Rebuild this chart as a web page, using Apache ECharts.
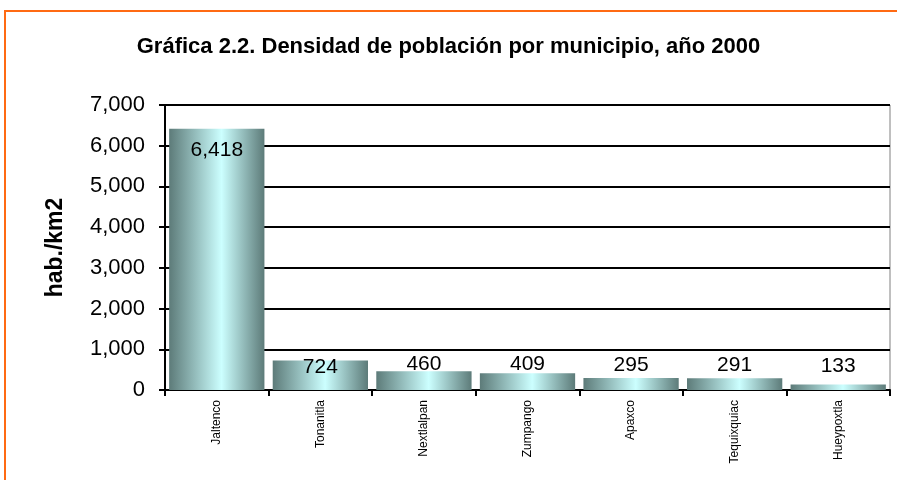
<!DOCTYPE html>
<html>
<head>
<meta charset="UTF-8">
<title>Densidad de población</title>
<script type="text/javascript" src="https://cdn.jsdelivr.net/npm/echarts@6/dist/echarts.min.js"></script>
</head>
<body style="margin:0">
    <div id="main" style="width: 897px;height:480px;"></div>
    <script type="text/javascript">
        var municipios = ['Jaltenco', 'Tonanitla', 'Nextlalpan', 'Zumpango', 'Apaxco', 'Tequixquiac', 'Hueypoxtla'];
        var densidad = [6418, 724, 460, 409, 295, 291, 133];
        var ejeY = [0, 1000, 2000, 3000, 4000, 5000, 6000, 7000];

        // label placement per bar, as excel put them
        var etiquetas = [
            { position: 'insideTop', distance: 11 },
            { position: 'insideTop', distance: -4 },
            { position: 'top', distance: -3 },
            { position: 'top', distance: -1 },
            { position: 'top', distance: 2 },
            { position: 'top', distance: 2 },
            { position: 'top', distance: 8 }
        ];

        var relleno = new echarts.graphic.LinearGradient(0, 0, 1, 0, [
            { offset: 0, color: '#5d7b79' },
            { offset: 0.55, color: '#ccffff' },
            { offset: 1, color: '#5d7b79' }
        ]);

        var datos = densidad.map(function (v, i) {
            return { value: v, label: etiquetas[i] };
        });

        var myChart = echarts.init(document.getElementById('main'));
        var option = {
            backgroundColor: '#fff',
            animation: false,
            title: {
                text: 'Gráfica 2.2. Densidad de población por municipio, año 2000',
                left: 'center',
                top: 31,
                textStyle: { fontFamily: 'Liberation Sans', fontSize: 22, fontWeight: 'bold', color: '#000' }
            },
            graphic: [{
                type: 'rect',
                shape: { x: 5, y: 11, width: 1000, height: 1000 },
                style: { fill: null, stroke: '#ff6a13', lineWidth: 2 }
            }],
            grid: {
                left: 165, right: 7, top: 105, bottom: 90,
                show: true, borderColor: '#808080', borderWidth: 1
            },
            xAxis: {
                type: 'category',
                data: municipios,
                axisLine: { lineStyle: { color: '#000', width: 2 } },
                axisTick: { show: true, length: 6, lineStyle: { color: '#000', width: 2 } },
                axisLabel: { rotate: 90, margin: 10, fontFamily: 'Liberation Sans', fontSize: 12, color: '#000' }
            },
            yAxis: {
                type: 'value',
                min: ejeY[0],
                max: ejeY[ejeY.length - 1],
                interval: 1000,
                name: 'hab./km2',
                nameLocation: 'middle',
                nameGap: 98,
                nameTextStyle: { fontFamily: 'Liberation Sans', fontSize: 23, fontWeight: 'bold', color: '#000' },
                axisLine: { show: true, lineStyle: { color: '#000', width: 2 } },
                axisTick: { show: true, length: 6, lineStyle: { color: '#000', width: 2 } },
                splitLine: { lineStyle: { color: '#000', width: 2 } },
                axisLabel: {
                    margin: 20,
                    fontFamily: 'Liberation Sans', fontSize: 22, color: '#000',
                    formatter: function (v) { return v.toLocaleString('en-US'); }
                }
            },
            series: [{
                type: 'bar',
                data: datos,
                barCategoryGap: '8%',
                itemStyle: { color: relleno },
                label: {
                    show: true,
                    fontFamily: 'Liberation Sans', fontSize: 21, color: '#000',
                    formatter: function (p) { return p.value.toLocaleString('en-US'); }
                }
            }]
        };
        myChart.setOption(option);
    </script>
</body>
</html>
